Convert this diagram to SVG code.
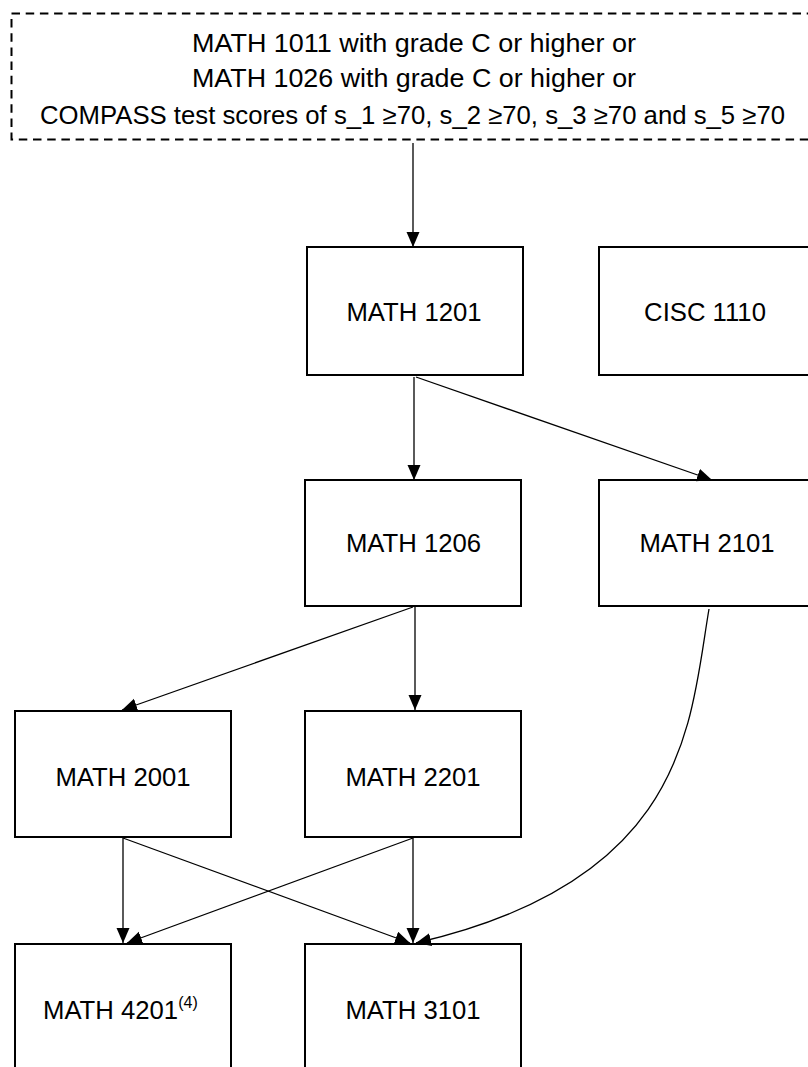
<svg xmlns="http://www.w3.org/2000/svg" width="808" height="1067" viewBox="0 0 808 1067">
<style>
.box{fill:#fff;stroke:#000;stroke-width:2}
.dash{fill:#fff;stroke:#000;stroke-width:2;stroke-dasharray:8.5 5.7}
.lbl{font-family:"Liberation Sans",Arial,sans-serif;font-size:25.7px;fill:#000;text-anchor:middle}
.sup{font-size:16px}
.conn{fill:none;stroke:#000;stroke-width:1.3}
</style>
<defs>
<marker id="ah" markerUnits="userSpaceOnUse" markerWidth="16" markerHeight="14" refX="15" refY="6.5" orient="auto">
<path d="M0,0 L15,6.5 L0,13 z" fill="#000"/>
</marker>
</defs>
<rect width="808" height="1067" fill="#fff"/>
<g id="prereq">
<rect class="dash" x="11.5" y="13.5" width="804" height="126"/>
<text class="lbl" x="414" y="52" textLength="444" lengthAdjust="spacingAndGlyphs">MATH 1011 with grade C or higher or</text>
<text class="lbl" x="414" y="87" textLength="444" lengthAdjust="spacingAndGlyphs">MATH 1026 with grade C or higher or</text>
<text class="lbl" x="412.5" y="124" textLength="745" lengthAdjust="spacingAndGlyphs">COMPASS test scores of s_1 ≥70, s_2 ≥70, s_3 ≥70 and s_5 ≥70</text>
</g>
<g id="math1201">
<rect class="box" x="307" y="247" width="216" height="128"/>
<text class="lbl" x="414" y="321">MATH 1201</text>
</g>
<g id="cisc1110">
<rect class="box" x="599" y="247" width="216" height="128"/>
<text class="lbl" x="705" y="321">CISC 1110</text>
</g>
<g id="math1206">
<rect class="box" x="305" y="480" width="216" height="126"/>
<text class="lbl" x="413.5" y="552">MATH 1206</text>
</g>
<g id="math2101">
<rect class="box" x="599" y="480" width="216" height="126"/>
<text class="lbl" x="707" y="552">MATH 2101</text>
</g>
<g id="math2001">
<rect class="box" x="15" y="711" width="216" height="126"/>
<text class="lbl" x="123" y="786">MATH 2001</text>
</g>
<g id="math2201">
<rect class="box" x="305" y="711" width="216" height="126"/>
<text class="lbl" x="413" y="786">MATH 2201</text>
</g>
<g id="math4201">
<rect class="box" x="15" y="944" width="216" height="130"/>
<text class="lbl" x="43" y="1019" style="text-anchor:start">MATH 4201<tspan class="sup" dy="-11">(4)</tspan></text>
</g>
<g id="math3101">
<rect class="box" x="305" y="944" width="216" height="130"/>
<text class="lbl" x="413" y="1019">MATH 3101</text>
</g>
<g id="connectors">
<line class="conn" x1="413" y1="143" x2="413" y2="247" marker-end="url(#ah)"/>
<line class="conn" x1="414" y1="377" x2="414" y2="480" marker-end="url(#ah)"/>
<line class="conn" x1="416" y1="377" x2="712" y2="480" marker-end="url(#ah)"/>
<line class="conn" x1="413" y1="607" x2="122" y2="710" marker-end="url(#ah)"/>
<line class="conn" x1="415" y1="607" x2="415" y2="710" marker-end="url(#ah)"/>
<line class="conn" x1="123" y1="838" x2="123" y2="943" marker-end="url(#ah)"/>
<line class="conn" x1="123" y1="838" x2="410" y2="943" marker-end="url(#ah)"/>
<line class="conn" x1="413" y1="838" x2="127" y2="943" marker-end="url(#ah)"/>
<line class="conn" x1="413" y1="838" x2="413" y2="943" marker-end="url(#ah)"/>
<path class="conn" d="M709,609 C690,720 690,880 416,943" marker-end="url(#ah)"/>
</g>
</svg>
